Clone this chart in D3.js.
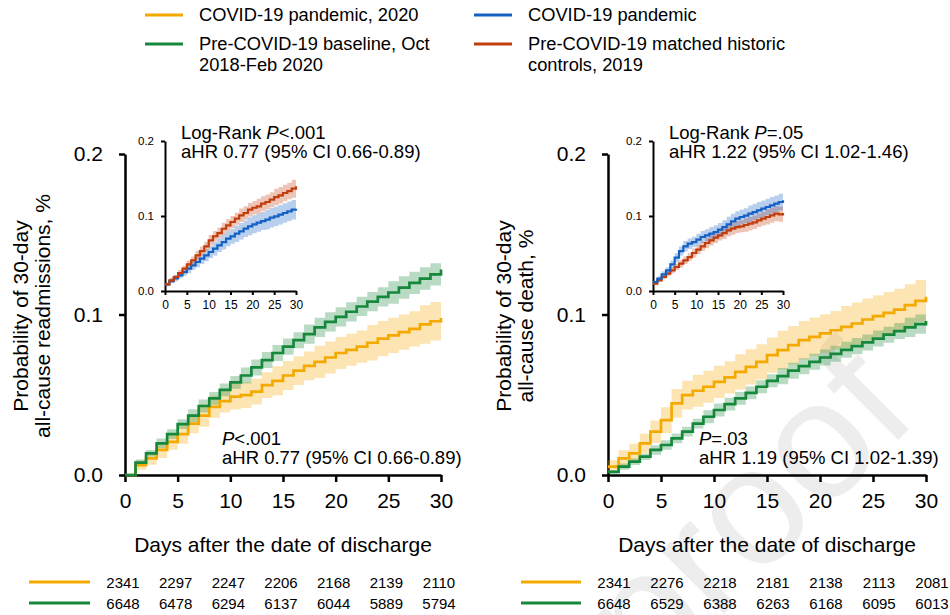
<!DOCTYPE html>
<html>
<head>
<meta charset="utf-8">
<script src="https://cdn.jsdelivr.net/npm/d3@7"></script>
<style>
  body { margin: 0; background: #fff; }
  text { font-family: "Liberation Sans", Arial, sans-serif; }
</style>
</head>
<body>
<div id="chart"></div>
<script>
// days after discharge
var days = [0,1,2,3,4,5,6,7,8,9,10,11,12,13,14,15,16,17,18,19,20,21,22,23,24,25,26,27,28,29,30];

// main left: readmissions
var readmCovid2020 = [0,0.0062,0.0104,0.0156,0.0207,0.0255,0.032,0.037,0.0425,0.046,0.0488,0.0498,0.052,0.056,0.0587,0.062,0.065,0.068,0.0705,0.0732,0.076,0.078,0.080,0.0824,0.085,0.087,0.089,0.091,0.0938,0.0958,0.0978];
var readmCovid2020Ci = [0,0.003,0.004,0.005,0.005,0.006,0.006,0.007,0.007,0.007,0.008,0.008,0.008,0.008,0.009,0.009,0.009,0.009,0.010,0.010,0.010,0.010,0.010,0.011,0.011,0.011,0.011,0.011,0.012,0.012,0.012];
var readmBaseline = [0,0.0077,0.0135,0.0197,0.0255,0.0317,0.037,0.043,0.0477,0.053,0.0577,0.062,0.067,0.0716,0.076,0.080,0.084,0.0878,0.092,0.0954,0.0985,0.1017,0.105,0.108,0.111,0.1137,0.1168,0.1197,0.1224,0.125,0.128];
var readmBaselineCi = [0,0.002,0.002,0.003,0.003,0.003,0.004,0.004,0.004,0.004,0.004,0.005,0.005,0.005,0.005,0.005,0.005,0.006,0.006,0.006,0.006,0.006,0.006,0.006,0.006,0.007,0.007,0.007,0.007,0.007,0.007];

// inset left: readmissions, matched cohorts
var readmCovid = [0.0089,0.0133,0.0169,0.0209,0.0253,0.0298,0.0342,0.0387,0.0431,0.0476,0.052,0.0564,0.0609,0.0653,0.0698,0.0729,0.0764,0.0796,0.0831,0.0862,0.0889,0.0911,0.0933,0.0951,0.0978,0.0996,0.1018,0.104,0.1062,0.1084,0.1098];
var readmCovidCi = [0.002,0.003,0.004,0.004,0.005,0.006,0.006,0.007,0.007,0.008,0.008,0.009,0.009,0.010,0.010,0.010,0.011,0.011,0.011,0.012,0.012,0.012,0.012,0.013,0.013,0.013,0.013,0.013,0.013,0.013,0.013];
var readmMatched = [0.0089,0.0142,0.0187,0.024,0.0298,0.0356,0.041,0.0476,0.0533,0.0596,0.0676,0.073,0.0773,0.083,0.0876,0.092,0.0964,0.1009,0.104,0.1084,0.111,0.1129,0.1164,0.1187,0.1218,0.1253,0.1276,0.1307,0.1333,0.1364,0.1396];
var readmMatchedCi = [0.002,0.003,0.003,0.004,0.004,0.005,0.005,0.006,0.006,0.006,0.007,0.007,0.007,0.008,0.008,0.008,0.008,0.009,0.009,0.009,0.009,0.010,0.010,0.010,0.010,0.011,0.011,0.011,0.011,0.012,0.012];

// main right: death
var deathCovid2020 = [0.0052,0.0104,0.0135,0.0197,0.027,0.0342,0.0446,0.0498,0.0525,0.055,0.058,0.0608,0.0643,0.0674,0.0705,0.0747,0.0778,0.0809,0.084,0.0861,0.0882,0.0902,0.0923,0.0944,0.0969,0.099,0.101,0.103,0.1058,0.1085,0.111];
var deathCovid2020Ci = [0.004,0.005,0.006,0.006,0.007,0.008,0.009,0.009,0.010,0.010,0.010,0.010,0.011,0.011,0.011,0.011,0.012,0.012,0.012,0.012,0.012,0.012,0.013,0.013,0.013,0.013,0.013,0.013,0.013,0.013,0.013];
var deathBaseline = [0.002,0.0052,0.0083,0.0114,0.0156,0.0187,0.0228,0.027,0.032,0.0363,0.0405,0.0442,0.0477,0.0512,0.055,0.0587,0.0616,0.065,0.0678,0.0705,0.0732,0.0755,0.078,0.0803,0.0826,0.085,0.0874,0.0897,0.092,0.094,0.096];
var deathBaselineCi = [0.001,0.002,0.002,0.002,0.003,0.003,0.003,0.003,0.003,0.004,0.004,0.004,0.004,0.004,0.004,0.004,0.005,0.005,0.005,0.005,0.005,0.005,0.005,0.005,0.005,0.005,0.005,0.005,0.006,0.006,0.006];

// inset right: death, matched cohorts
var deathCovid = [0.012,0.0164,0.0222,0.0276,0.0356,0.0444,0.0533,0.0596,0.0631,0.0653,0.0684,0.072,0.0742,0.0764,0.0787,0.0818,0.0853,0.0889,0.0929,0.0964,0.0987,0.1004,0.1031,0.1053,0.1076,0.1098,0.112,0.1142,0.1164,0.1187,0.1209];
var deathCovidCi = [0.002,0.003,0.004,0.004,0.005,0.006,0.006,0.007,0.007,0.007,0.008,0.008,0.008,0.009,0.009,0.009,0.009,0.010,0.010,0.010,0.010,0.010,0.011,0.011,0.011,0.011,0.011,0.011,0.011,0.011,0.011];
var deathMatched = [0.0098,0.0142,0.0187,0.0231,0.0276,0.032,0.0364,0.0409,0.0453,0.0507,0.0551,0.0596,0.064,0.0676,0.0711,0.0742,0.0773,0.0809,0.0831,0.0853,0.0862,0.088,0.0898,0.0916,0.0942,0.0964,0.0987,0.1009,0.1031,0.1022,0.104];
var deathMatchedCi = [0.002,0.002,0.003,0.003,0.004,0.004,0.005,0.005,0.005,0.006,0.006,0.006,0.007,0.007,0.007,0.007,0.008,0.008,0.008,0.008,0.008,0.009,0.009,0.009,0.009,0.009,0.010,0.010,0.010,0.010,0.010];

// numbers at risk
var riskDays = [0,5,10,15,20,25,30];
var riskReadmCovid2020 = [2341,2297,2247,2206,2168,2139,2110];
var riskReadmBaseline = [6648,6478,6294,6137,6044,5889,5794];
var riskDeathCovid2020 = [2341,2276,2218,2181,2138,2113,2081];
var riskDeathBaseline = [6648,6529,6388,6263,6168,6095,6013];

var yellow = "#f4a900", green = "#16883c", blue = "#1560c4", red = "#c23d0c";

var svg = d3.select("#chart").append("svg")
  .attr("width", 950).attr("height", 615);

// watermark
svg.append("text")
  .attr("transform", "translate(650,688) rotate(-45)")
  .style("font-size", "168px")
  .attr("fill", "#ededed")
  .text("proof");

function drawCurves(g, x, y, series, lw) {
  series.forEach(function(s) {
    var area = d3.area()
      .x(function(d, i) { return x(days[i]); })
      .y0(function(d, i) { return y(Math.max(0, d - s.ci[i])); })
      .y1(function(d, i) { return y(d + s.ci[i]); })
      .curve(d3.curveStepAfter);
    g.append("path").datum(s.values)
      .attr("d", area)
      .attr("fill", s.color)
      .attr("fill-opacity", 0.3);
  });
  series.forEach(function(s) {
    var line = d3.line()
      .x(function(d, i) { return x(days[i]); })
      .y(function(d) { return y(d); })
      .curve(d3.curveStepAfter);
    g.append("path").datum(s.values)
      .attr("d", line)
      .attr("fill", "none")
      .attr("stroke", s.color)
      .attr("stroke-width", lw);
  });
}

function styleAxis(g, sw) {
  g.select(".domain").attr("stroke", "#000").attr("stroke-width", sw);
  g.selectAll(".tick line").attr("stroke", "#000").attr("stroke-width", sw);
  g.selectAll(".tick text").attr("fill", "#000");
}

// two-line text block with an italic P in the first line
function pBlock(x, y, prefix, rest, second) {
  var t = svg.append("text").attr("x", x).attr("y", y).style("font-size", "18.5px");
  if (prefix) t.append("tspan").text(prefix);
  t.append("tspan").style("font-style", "italic").text("P");
  t.append("tspan").text(rest);
  t.append("tspan").attr("x", x).attr("dy", 18.5).text(second);
}

function panel(opt) {
  var x = d3.scaleLinear().domain([0, 30]).range([opt.x0, opt.x1]);
  var y = d3.scaleLinear().domain([0, 0.2]).range([475, 154]);

  var gy = svg.append("g").attr("transform", "translate(" + opt.x0 + ",0)")
    .call(d3.axisLeft(y).tickValues([0, 0.1, 0.2]).tickFormat(d3.format(".1f"))
      .tickSize(6).tickSizeOuter(0).tickPadding(16));
  gy.selectAll("text").style("font-size", "21px").style("font-family", "Liberation Sans, Arial, sans-serif");
  styleAxis(gy, 2.5);

  var gx = svg.append("g").attr("transform", "translate(0,475)")
    .call(d3.axisBottom(x).tickValues([0, 5, 10, 15, 20, 25, 30])
      .tickSize(7).tickSizeOuter(0).tickPadding(11));
  gx.selectAll("text").style("font-size", "21px").style("font-family", "Liberation Sans, Arial, sans-serif");
  styleAxis(gx, 2.5);

  drawCurves(svg.append("g"), x, y, opt.main, 2.7);

  // y title
  var yt = svg.append("text")
    .attr("transform", "translate(" + opt.titleX + ",316) rotate(-90)")
    .attr("text-anchor", "middle")
    .style("font-size", "21px");
  yt.append("tspan").attr("x", 0).attr("y", 0).text("Probability of 30-day");
  yt.append("tspan").attr("x", 0).attr("y", 22).text(opt.yTitle);

  svg.append("text")
    .attr("x", (opt.x0 + opt.x1) / 2).attr("y", 552)
    .attr("text-anchor", "middle")
    .style("font-size", "21px")
    .text("Days after the date of discharge");

  pBlock(opt.annX, 445, null, opt.annP, opt.annHR);

  // inset
  var xi = d3.scaleLinear().domain([0, 30]).range([opt.ix0, opt.ix1]);
  var yi = d3.scaleLinear().domain([0, 0.2]).range([291, 141]);
  var giy = svg.append("g").attr("transform", "translate(" + opt.ix0 + ",0)")
    .call(d3.axisLeft(yi).tickValues([0, 0.1, 0.2]).tickFormat(d3.format(".1f"))
      .tickSize(4).tickSizeOuter(0).tickPadding(7));
  giy.selectAll("text").style("font-size", "11.5px").style("font-family", "Liberation Sans, Arial, sans-serif");
  styleAxis(giy, 2);
  var gix = svg.append("g").attr("transform", "translate(0,291)")
    .call(d3.axisBottom(xi).tickValues([0, 5, 10, 15, 20, 25, 30])
      .tickSize(4).tickSizeOuter(0).tickPadding(5));
  gix.selectAll("text").style("font-size", "12px").style("font-family", "Liberation Sans, Arial, sans-serif");
  styleAxis(gix, 2);

  drawCurves(svg.append("g"), xi, yi, opt.inset, 2.2);

  pBlock(opt.ix0 + 16, 139, "Log-Rank ", opt.insetP, opt.insetHR);

  // numbers at risk
  var rows = [{c: yellow, v: opt.risk[0], y: 582}, {c: green, v: opt.risk[1], y: 603}];
  rows.forEach(function(r) {
    svg.append("line")
      .attr("x1", opt.riskLine[0]).attr("x2", opt.riskLine[1])
      .attr("y1", r.y).attr("y2", r.y)
      .attr("stroke", r.c).attr("stroke-width", 3);
    svg.append("g").selectAll("text").data(r.v).enter().append("text")
      .attr("x", function(d, i) { return x(riskDays[i]) + opt.riskShift; })
      .attr("y", r.y + 6)
      .attr("text-anchor", "middle")
      .style("font-size", "15px")
      .text(function(d) { return d; });
  });
}

panel({
  x0: 125, x1: 441, ix0: 165, ix1: 296, titleX: 28,
  yTitle: "all-cause readmissions, %",
  main: [
    {values: readmCovid2020, ci: readmCovid2020Ci, color: yellow},
    {values: readmBaseline, ci: readmBaselineCi, color: green}
  ],
  inset: [
    {values: readmCovid, ci: readmCovidCi, color: blue},
    {values: readmMatched, ci: readmMatchedCi, color: red}
  ],
  annX: 222, annP: "<.001", annHR: "aHR 0.77 (95% CI 0.66-0.89)",
  insetP: "<.001", insetHR: "aHR 0.77 (95% CI 0.66-0.89)",
  risk: [riskReadmCovid2020, riskReadmBaseline], riskLine: [29, 90], riskShift: -2
});

panel({
  x0: 608, x1: 926, ix0: 653, ix1: 783, titleX: 511,
  yTitle: "all-cause death, %",
  main: [
    {values: deathCovid2020, ci: deathCovid2020Ci, color: yellow},
    {values: deathBaseline, ci: deathBaselineCi, color: green}
  ],
  inset: [
    {values: deathMatched, ci: deathMatchedCi, color: red},
    {values: deathCovid, ci: deathCovidCi, color: blue}
  ],
  annX: 699, annP: "=.03", annHR: "aHR 1.19 (95% CI 1.02-1.39)",
  insetP: "=.05", insetHR: "aHR 1.22 (95% CI 1.02-1.46)",
  risk: [riskDeathCovid2020, riskDeathBaseline], riskLine: [521, 581], riskShift: 6
});

// legend
var legendItems = [
  {lines: ["COVID-19 pandemic, 2020"], c: yellow, x: 145, y: 15},
  {lines: ["Pre-COVID-19 baseline, Oct", "2018-Feb 2020"], c: green, x: 145, y: 44},
  {lines: ["COVID-19 pandemic"], c: blue, x: 474, y: 15},
  {lines: ["Pre-COVID-19 matched historic", "controls, 2019"], c: red, x: 474, y: 44}
];
legendItems.forEach(function(it) {
  svg.append("line")
    .attr("x1", it.x).attr("x2", it.x + 38)
    .attr("y1", it.y).attr("y2", it.y)
    .attr("stroke", it.c).attr("stroke-width", 3);
  var t = svg.append("text")
    .attr("x", it.x + 54).attr("y", it.y + 6)
    .style("font-size", "18.3px");
  it.lines.forEach(function(l, i) {
    t.append("tspan").attr("x", it.x + 54).attr("dy", i === 0 ? 0 : 21).text(l);
  });
});
</script>
</body>
</html>
